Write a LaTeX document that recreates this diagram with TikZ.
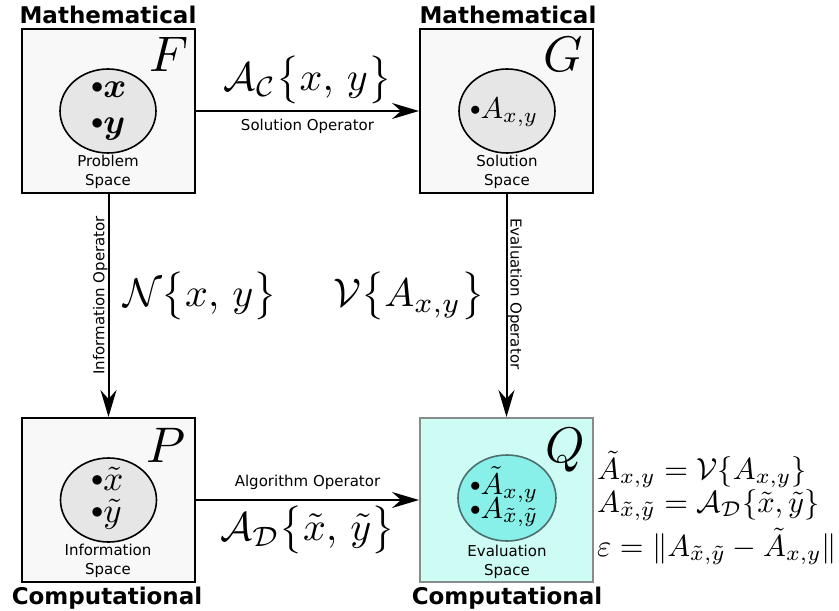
\RequirePackage{fix-cm}
\documentclass[tikz,border=0pt]{standalone}
\usepackage{amsmath,amssymb}
\usepackage{fontspec}
\setmainfont{DejaVu Sans}
\usetikzlibrary{arrows.meta,positioning,shapes.geometric}

\definecolor{boxgray}{HTML}{F8F8F8}
\definecolor{ellgray}{HTML}{E6E6E6}
\definecolor{evalfill}{HTML}{CCFCF4}
\definecolor{evalell}{HTML}{88F0E8}
\definecolor{evalline}{HTML}{8A8A8A}
\definecolor{evalring}{HTML}{4D6E6E}

% math set at 10pt and blown up
\newcommand{\mth}[2]{\scalebox{#1}{$#2$}}
\newcommand{\dotmark}{\mathord{\vcenter{\hbox{\scalebox{0.7}{$\bullet$}}}}}

\begin{document}
\begin{tikzpicture}[x=1pt,y=-1pt,
  space/.style={draw,line width=2pt,fill=boxgray,minimum width=173pt,minimum height=164pt,inner sep=0pt},
  blob/.style={ellipse,draw,line width=1.6pt,fill=ellgray,minimum width=96pt,minimum height=84pt,inner sep=0pt},
  sym/.style={anchor=base,inner sep=0pt},
  pts/.style={anchor=base west,inner sep=0pt},
  caption/.style={align=center,font=\fontsize{15}{19}\selectfont,inner sep=0pt},
  realm/.style={font=\fontsize{23}{23}\selectfont\bfseries,anchor=base,inner sep=0pt},
  opname/.style={font=\fontsize{15}{15}\selectfont,inner sep=0pt},
  opmath/.style={inner sep=0pt},
  eq/.style={anchor=base west,inner sep=0pt},
  op/.style={line width=2pt,-{Stealth[length=27pt,width=16pt,inset=9pt]}}
]
  \useasboundingbox (0,0) rectangle (839,611);

  % the four spaces
  \node[space] (F) at (108.5,111) {};
  \node[space] (G) at (506.5,111) {};
  \node[space] (P) at (108.5,500) {};
  \node[space,draw=evalline,fill=evalfill] (Q) at (506.5,500) {};

  \node[blob] (Fe) at (108,111) {};
  \node[blob] (Ge) at (507,111) {};
  \node[blob] (Pe) at (108.5,500) {};
  \node[blob,draw=evalring,fill=evalell,minimum width=98pt,minimum height=86pt] (Qe) at (507,498) {};

  \node[sym] (Fs) at (169,71) {\mth{5}{F}};
  \node[sym] (Gs) at (563,71) {\mth{5}{G}};
  \node[sym] (Ps) at (166,462) {\mth{5}{P}};
  \node[sym] (Qs) at (565,462) {\mth{5}{Q}};

  % points in each space
  \node[pts] (fx) at (91,97) {\mth{3.5}{\dotmark\boldsymbol{x}}};
  \node[pts] (fy) at (91,133) {\mth{3.5}{\dotmark\boldsymbol{y}}};
  \node[pts] (px) at (91,490) {\mth{3.5}{\dotmark\tilde{x}}};
  \node[pts] (py) at (91,522) {\mth{3.5}{\dotmark\tilde{y}}};
  \node[pts] (ga) at (470,118) {\mth{3}{\dotmark A_{x,y}}};
  \node[pts] (qa) at (470,494) {\mth{3}{\dotmark\tilde{A}_{x,y}}};
  \node[pts] (qb) at (470,518) {\mth{3}{\dotmark A_{\tilde{x},\tilde{y}}}};

  \node[caption] (Fc) at (108,171.5) {Problem\\Space};
  \node[caption] (Gc) at (507,172) {Solution\\Space};
  \node[caption] (Pc) at (108,561) {Information\\Space};
  \node[caption] (Qc) at (507,562) {Evaluation\\Space};

  \node[realm] (Fr) at (108,23) {Mathematical};
  \node[realm] (Gr) at (508,23) {Mathematical};
  \node[realm] (Pr) at (107,604) {Computational};
  \node[realm] (Qr) at (507,604) {Computational};

  % operators
  \draw[op] (F) -- (G)
    node[midway,above=6pt,opmath] {\mth{4}{\mathcal{A}_{\mathcal{C}}\bigl\{x,\,y\bigr\}}}
    node[midway,below=7pt,opname] {Solution Operator};
  \draw[op] (P) -- (Q)
    node[midway,above=9pt,opname] {Algorithm Operator}
    node[midway,below=5pt,opmath] {\mth{4}{\mathcal{A}_{\mathcal{D}}\bigl\{\tilde{x},\,\tilde{y}\bigr\}}};
  \draw[op] (F) -- (P)
    node[pos=0.5,rotate=90,above=10pt,opname] {Information Operator};
  \draw[op] (G) -- (Q)
    node[pos=0.47,rotate=-90,above=5pt,opname] {Evaluation Operator};

  \node[opmath] (Nop) at (200,296) {\mth{4}{\mathcal{N}\bigl\{x,\,y\bigr\}}};
  \node[opmath] (Vop) at (409,296) {\mth{4}{\mathcal{V}\bigl\{A_{x,y}\bigr\}}};

  % error relations
  \node[eq] (e1) at (597,479) {\mth{3.05}{\tilde{A}_{x,y}=\mathcal{V}\{A_{x,y}\}}};
  \node[eq] (e2) at (597,512) {\mth{3.05}{A_{\tilde{x},\tilde{y}}=\mathcal{A}_{\mathcal{D}}\{\tilde{x},\tilde{y}\}}};
  \node[eq] (e3) at (597,556) {\mth{3.05}{\varepsilon=\|A_{\tilde{x},\tilde{y}}-\tilde{A}_{x,y}\|}};
\end{tikzpicture}
\end{document}
